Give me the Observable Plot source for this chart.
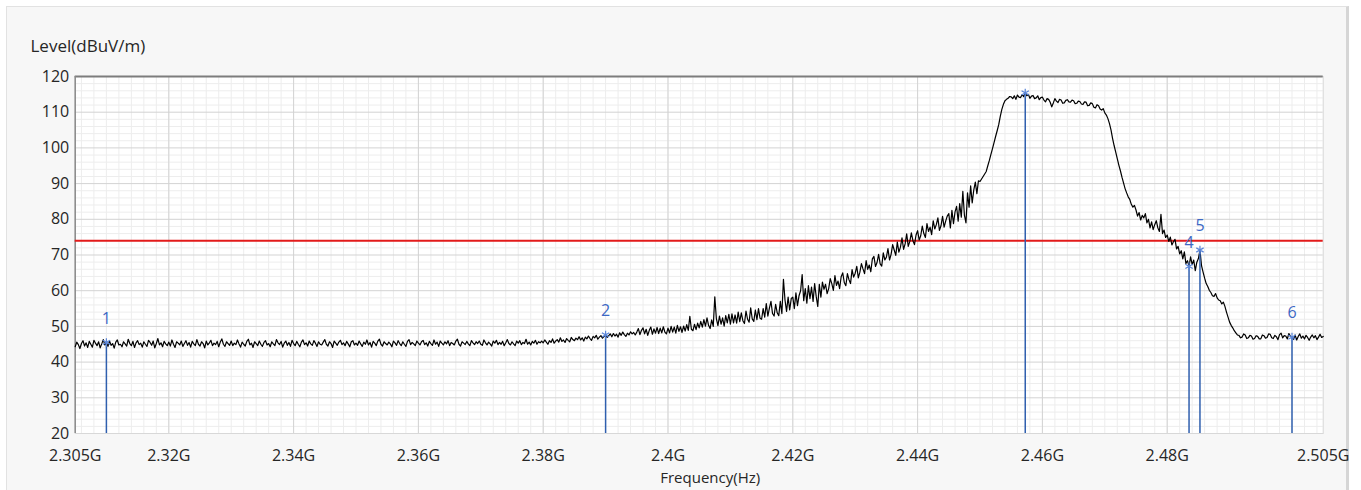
<!DOCTYPE html>
<html>
<head>
<meta charset="utf-8">
<script src="https://cdn.jsdelivr.net/npm/d3@7"></script>
<script src="https://cdn.jsdelivr.net/npm/@observablehq/plot@0.6"></script>
<style>
  html, body { margin: 0; padding: 0; background: #ffffff; }
  #panel { position: absolute; left: 6px; top: 6px; width: 1339px; height: 490px;
           background: #f7f7f7; border-left: 1px solid #e2e2e2; border-top: 1px solid #e2e2e2;
           border-right: 3px solid #d6d6d6; }
  #chart { position: absolute; left: 0; top: 0; }
</style>
</head>
<body>
<div id="panel"></div>
<div id="chart"></div>
<script>
// Sweep settings (GHz): first point, step between points, points per row below
const sweepStart = 2.305;
const sweepStep = 0.00025;
const pointsPerRow = 20;

// Measured level (dBuV/m), one row per 5 MHz of sweep
const levelRows = [
  [44.3, 45.6, 44.9, 43.8, 45.2, 46.0, 44.5, 45.4, 44.1, 45.8, 45.0, 44.2, 46.1, 45.3, 44.6, 45.7, 44.0, 45.1, 46.3, 44.8],
  [45.5, 44.4, 45.9, 44.7, 45.2, 43.9, 45.6, 46.2, 44.8, 45.0, 44.3, 45.7, 45.1, 44.5, 46.4, 45.2, 44.6, 45.8, 44.1, 45.4],
  [46.0, 44.9, 45.3, 44.2, 45.7, 45.0, 44.4, 46.1, 45.5, 44.7, 45.9, 44.0, 45.2, 46.6, 44.8, 45.4, 44.3, 45.8, 45.1, 44.6],
  [45.6, 44.5, 46.2, 45.0, 44.1, 45.7, 45.3, 44.8, 45.9, 44.4, 45.2, 46.0, 44.7, 45.5, 44.2, 45.8, 45.1, 44.6, 46.3, 45.0],
  [44.5, 45.7, 45.2, 44.0, 45.9, 44.8, 45.4, 46.1, 44.6, 45.3, 44.9, 45.8, 44.3, 45.6, 46.5, 45.0, 44.4, 45.7, 45.2, 44.7],
  [45.9, 44.6, 45.3, 44.9, 46.2, 45.1, 44.2, 45.6, 45.0, 44.5, 45.8, 46.4, 44.8, 45.3, 44.1, 45.7, 45.2, 44.6, 45.9, 45.0],
  [44.4, 45.5, 46.0, 44.8, 45.2, 44.3, 45.7, 45.1, 44.6, 46.3, 45.4, 44.9, 45.8, 44.2, 45.3, 45.9, 44.7, 45.5, 44.4, 46.1],
  [45.2, 44.6, 45.8, 45.0, 44.3, 45.6, 46.2, 44.9, 45.4, 44.5, 45.9, 45.1, 44.7, 46.0, 45.3, 44.4, 45.7, 45.0, 44.8, 45.6],
  [46.3, 45.0, 44.5, 45.7, 45.2, 44.1, 45.9, 45.3, 44.7, 45.6, 46.1, 44.9, 45.4, 44.6, 45.8, 45.1, 44.3, 45.7, 46.0, 44.8],
  [45.3, 44.7, 45.9, 45.1, 44.4, 45.6, 45.0, 46.2, 44.8, 45.5, 44.2, 45.8, 45.3, 44.6, 45.9, 46.4, 45.0, 44.5, 45.7, 45.2],
  [44.8, 45.6, 45.1, 44.3, 45.9, 45.4, 44.7, 46.0, 45.2, 44.6, 45.7, 45.0, 44.4, 45.8, 46.3, 44.9, 45.5, 45.1, 44.6, 45.9],
  [45.3, 44.8, 45.7, 46.1, 44.9, 45.4, 44.5, 45.8, 45.2, 44.7, 46.2, 45.0, 45.6, 44.4, 45.9, 45.3, 44.8, 45.7, 45.1, 46.0],
  [44.6, 45.5, 45.2, 44.8, 45.9, 46.4, 45.0, 44.5, 45.7, 45.3, 44.9, 45.8, 45.1, 44.6, 46.0, 45.4, 44.9, 45.7, 45.2, 45.9],
  [45.0, 44.7, 46.2, 45.4, 44.8, 45.6, 45.1, 44.5, 45.9, 45.3, 46.1, 44.9, 45.5, 45.0, 45.8, 44.6, 45.4, 46.3, 45.2, 44.8],
  [45.7, 45.1, 44.6, 45.9, 45.3, 46.0, 44.9, 45.5, 45.2, 46.4, 45.0, 45.6, 44.8, 45.8, 45.3, 46.1, 45.0, 45.7, 45.4, 45.9],
  [45.4, 46.2, 45.6, 45.0, 46.0, 45.5, 46.5, 45.3, 45.9, 46.3, 45.6, 46.8, 45.8, 46.2, 45.5, 46.6, 46.1, 45.7, 46.9, 46.3],
  [46.0, 46.7, 46.3, 47.1, 46.2, 46.8, 45.9, 47.0, 46.5, 47.3, 46.6, 46.1, 47.2, 46.8, 47.5, 46.4, 47.0, 47.4, 46.7, 47.2],
  [47.6, 46.9, 47.4, 47.9, 47.1, 48.0, 47.3, 47.8, 47.0, 48.2, 47.5, 48.4, 47.7, 47.2, 48.1, 47.6, 48.5, 47.9, 48.3, 47.6],
  [48.4, 49.4, 47.7, 48.9, 49.6, 47.9, 49.2, 47.5, 48.9, 49.8, 47.8, 49.3, 48.1, 49.7, 48.0, 49.5, 48.2, 49.9, 48.4, 47.9],
  [49.5, 48.2, 50.0, 48.4, 49.8, 48.1, 50.3, 48.6, 49.9, 48.3, 50.1, 48.7, 50.5, 48.9, 52.8, 49.2, 48.8, 50.6, 49.1, 50.9],
  [49.6, 51.4, 49.8, 51.9, 50.1, 52.4, 50.3, 49.4, 51.8, 50.0, 58.3, 52.2, 50.2, 52.9, 50.6, 52.4, 50.1, 53.0, 51.0, 53.4],
  [50.6, 53.5, 51.0, 53.2, 50.9, 54.0, 51.3, 53.8, 51.6, 50.8, 54.3, 52.0, 51.2, 55.2, 52.1, 51.4, 54.6, 51.9, 55.0, 52.3],
  [52.0, 55.0, 52.6, 56.4, 52.9, 55.1, 57.0, 53.6, 52.9, 56.2, 53.8, 53.0, 57.0, 53.6, 63.2, 57.4, 54.2, 58.2, 54.6, 57.8],
  [58.2, 55.0, 59.4, 55.8, 58.6, 60.0, 64.5, 57.2, 60.6, 56.5, 61.4, 57.8, 61.0, 57.0, 62.0, 58.4, 55.6, 61.8, 58.2, 62.4],
  [60.4, 61.8, 59.2, 60.6, 63.4, 62.0, 60.1, 64.2, 61.5, 62.7, 60.6, 63.9, 65.0, 62.3, 61.4, 64.8, 63.1, 62.0, 65.9, 63.8],
  [64.9, 66.8, 63.6, 65.2, 67.6, 66.1, 64.8, 68.4, 66.0, 67.2, 65.3, 68.9, 69.6, 66.8, 67.9, 70.2, 67.5, 66.9, 70.6, 68.6],
  [69.4, 71.8, 68.6, 70.2, 72.9, 71.4, 69.9, 73.6, 70.8, 72.2, 74.8, 71.6, 73.1, 75.9, 72.4, 73.8, 76.2, 74.0, 72.9, 75.6],
  [76.8, 74.2, 75.4, 78.1, 76.0, 74.9, 78.8, 76.6, 77.8, 75.7, 79.6, 77.3, 78.5, 80.4, 76.9, 78.2, 80.8, 77.8, 79.5, 80.9],
  [81.6, 77.6, 82.5, 78.8, 82.1, 83.6, 79.5, 84.4, 80.6, 87.8, 81.2, 79.0, 87.4, 83.4, 89.4, 84.6, 88.2, 90.4, 87.2, 90.8],
  [90.6, 91.3, 92.0, 92.7, 93.4, 95.0, 96.5, 98.2, 99.8, 101.5, 103.2, 104.8, 106.5, 108.8, 110.8, 112.2, 113.2, 113.6, 113.9, 114.4],
  [114.3, 113.8, 114.6, 113.6, 114.8, 114.2, 114.1, 114.9, 114.4, 115.4, 114.6, 115.0, 113.9, 114.5, 114.7, 113.8, 114.0, 114.6, 113.5, 114.1],
  [114.2, 113.4, 112.9, 113.8, 113.6, 112.8, 111.5, 112.6, 113.8, 113.1, 112.7, 113.6, 113.4, 112.5, 112.6, 113.3, 113.5, 112.9, 112.8, 113.4],
  [113.2, 112.4, 112.5, 113.1, 113.0, 112.3, 112.2, 112.9, 112.8, 111.8, 111.9, 112.6, 112.4, 111.4, 111.2, 112.1, 111.8, 110.9, 110.6, 111.0],
  [109.8, 109.2, 108.2, 106.8, 105.0, 102.6, 100.6, 98.8, 97.0, 95.2, 93.6, 91.8, 90.2, 88.6, 87.4, 86.3, 85.6, 84.2, 83.4, 83.9],
  [82.6, 80.9, 81.9, 79.8, 81.1, 80.4, 81.6, 79.0, 80.0, 77.6, 79.3, 77.1, 78.5, 79.6, 77.6, 76.6, 81.4, 76.0, 77.0, 74.9],
  [75.6, 73.8, 75.0, 72.8, 73.7, 74.4, 71.7, 72.4, 70.3, 71.2, 68.9, 70.9, 67.6, 68.4, 66.8, 69.5, 67.3, 68.6, 65.6, 68.0],
  [69.0, 71.4, 67.0, 65.2, 63.5, 62.0, 61.2, 60.1, 59.5, 58.6, 58.4, 59.2, 58.0, 57.4, 57.2, 56.3, 56.8, 55.6, 54.0, 52.6],
  [51.2, 50.3, 49.6, 48.8, 48.2, 47.6, 47.5, 46.8, 47.0, 47.9, 47.6, 46.6, 46.8, 47.5, 47.3, 46.4, 46.6, 47.4, 47.2, 46.5],
  [46.5, 47.6, 47.4, 46.7, 46.9, 47.9, 47.8, 46.8, 46.6, 47.5, 47.1, 46.3, 47.7, 48.1, 46.8, 47.4, 47.3, 46.5, 48.0, 47.2],
  [47.0, 46.4, 47.6, 46.2, 47.2, 47.9, 46.7, 47.3, 46.5, 47.5, 46.9, 46.1, 47.0, 47.6, 46.8, 47.4, 46.3, 47.0, 47.8, 46.9],
  [47.2]
];

// Markers
const markerNo = [1, 2, 3, 4, 5, 6];
const markerFreq = [2.31, 2.39, 2.45725, 2.4835, 2.48525, 2.5];
const markerLevel = [45.5, 47.6, 115.4, 66.8, 71.4, 47.0];

// Limit line (dBuV/m)
const limitLevel = 74;

// Axis ticks
const xTicks = [2.305, 2.32, 2.34, 2.36, 2.38, 2.4, 2.42, 2.44, 2.46, 2.48, 2.505];
const yTicks = [20, 30, 40, 50, 60, 70, 80, 90, 100, 110, 120];

const trace = levelRows.flatMap((row, r) =>
  row.map((v, j) => ({f: sweepStart + (r * pointsPerRow + j) * sweepStep, v})));
const markers = markerNo.map((n, i) => ({n, f: markerFreq[i], v: markerLevel[i]}));

const xMajor = xTicks.slice(1, -1);
const yMajor = yTicks.slice(1, -1);
const xMinor = d3.range(2.306, 2.5045, 0.002);
const yMinor = d3.range(22, 120, 2).filter(d => d % 10 !== 0);

const blue = "#2f5fae";
const font = "'Open Sans', 'Noto Sans', sans-serif";

const chart = Plot.plot({
  width: 1361,
  height: 490,
  marginLeft: 74.7,
  marginRight: 38.3,
  marginTop: 76,
  marginBottom: 57,
  style: {background: "transparent", fontFamily: font, fontSize: "16px", color: "#262626", overflow: "visible"},
  x: {domain: [2.305, 2.505], ticks: xTicks, tickFormat: d => `${+d.toFixed(3)}G`,
      tickSize: 0, tickPadding: 16, label: null},
  y: {domain: [20, 120], ticks: yTicks, tickSize: 0, tickPadding: 6, label: null},
  marks: [
    Plot.frame({fill: "#ffffff", stroke: null}),
    Plot.ruleX(xMinor, {stroke: "#ededed", strokeWidth: 1}),
    Plot.ruleY(yMinor, {stroke: "#ededed", strokeWidth: 1}),
    Plot.ruleX(xMajor, {stroke: "#d3d3d3", strokeWidth: 1}),
    Plot.ruleY(yMajor, {stroke: "#d3d3d3", strokeWidth: 1}),
    Plot.frame({stroke: "#d8d8d8"}),
    Plot.ruleY([120], {stroke: "#7d7d7d", strokeWidth: 2}),
    Plot.ruleX([2.305], {stroke: "#8a8a8a", strokeWidth: 1.5}),
    Plot.ruleY([limitLevel], {stroke: "#e31b1b", strokeWidth: 2}),
    Plot.line(trace, {x: "f", y: "v", stroke: "#000000", strokeWidth: 1.2}),
    Plot.ruleX(markers, {x: "f", y1: 20, y2: "v", stroke: blue, strokeWidth: 1.5}),
    Plot.dot(markers, {x: "f", y: "v", symbol: "asterisk", r: 4, stroke: "#5a85d8", strokeWidth: 1.2}),
    Plot.text(markers, {x: "f", y: "v", text: d => String(d.n), dy: -24, fill: "#3d68c4",
                        fontSize: 16, clip: true}),
    Plot.text(["Level(dBuV/m)"], {text: d => d, frameAnchor: "top-left", textAnchor: "start",
                                  lineAnchor: "middle", dx: -44.7, dy: -30, fontSize: 17, fill: "#262626"}),
    Plot.text(["Frequency(Hz)"], {text: d => d, frameAnchor: "bottom", lineAnchor: "middle",
                                  dx: 11, dy: 45, fontSize: 15, fill: "#262626"})
  ]
});

document.getElementById("chart").appendChild(chart);
</script>
</body>
</html>
